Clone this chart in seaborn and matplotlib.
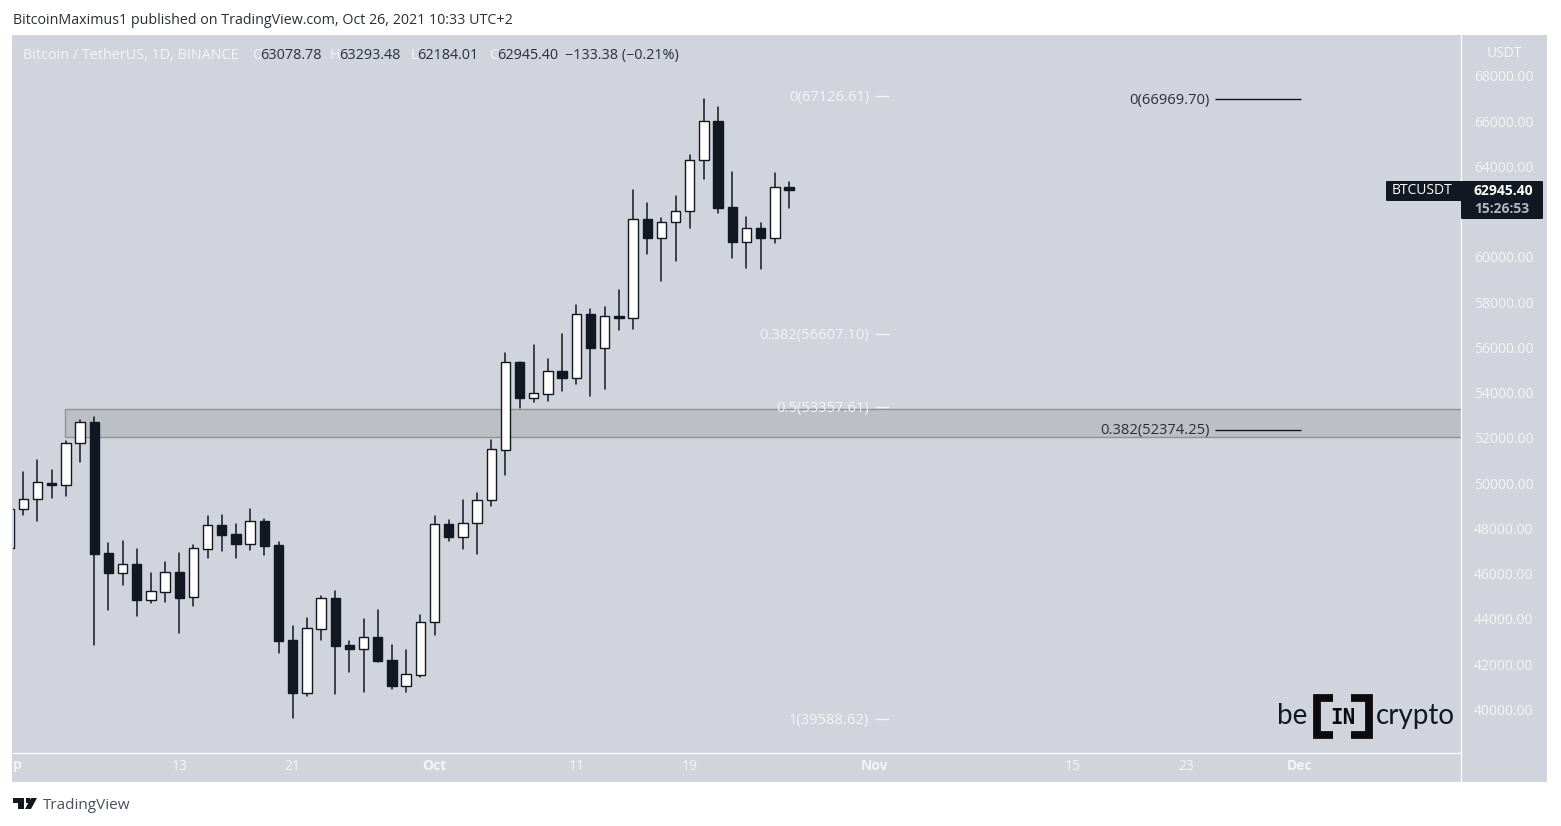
import matplotlib
matplotlib.use('Agg')
import matplotlib.pyplot as plt
import pandas as pd
import seaborn as sns
from matplotlib.lines import Line2D
from matplotlib.patches import FancyBboxPatch, Polygon, Rectangle

# daily candles from 1 Sep 2021
opens = [47138, 48849, 49290, 50012, 49939, 51765, 52693, 46904, 46050, 46433, 44857, 45210, 46065, 44960, 47110,
         48141, 47744, 47331, 48318, 47258, 43074, 40747, 43575, 44930, 42839, 42691, 43192, 42176, 41057, 41542,
         43855, 48186, 47641, 48230, 49246, 51488, 55348, 53786, 53963, 54950, 54670, 57469, 55996, 57395, 57321,
         61667, 60857, 61534, 62020, 64274, 65997, 62212, 60680, 61269, 60857, 63078.78]
closes = [48862, 49290, 50042, 49924, 51765, 52693, 46889, 46050, 46418, 44842, 45225, 46065, 44945, 47125, 48141,
          47729, 47331, 48318, 47243, 43045, 40747, 43590, 44916, 42809, 42691, 43192, 42161, 41057, 41557, 43855,
          48186, 47641, 48230, 49246, 51500, 55348, 53786, 53977, 54950, 54670, 57469, 55996, 57380, 57321, 61667,
          60857, 61534, 62020, 64274, 65997, 62182, 60680, 61269, 60857, 63081, 62945.40]
highs = [48900, 50498, 51014, 50587, 51883, 52796, 52914, 47346, 47449, 47081, 46050, 46507, 46904, 47258, 48554,
         48598, 48200, 48863, 48421, 47405, 43693, 44047, 45019, 45240, 43030, 44002, 44400, 42854, 42632, 44179,
         48554, 48377, 49261, 49556, 51912, 55745, 55348, 56099, 55495, 56600, 57881, 57704, 57793, 58544, 62963,
         62388, 61726, 62698, 64510, 66984, 66631, 63758, 61770, 61505, 63714, 63293.48]
lows = [47000, 48598, 48348, 49349, 49438, 50940, 42854, 44400, 45505, 44135, 44709, 44754, 43384, 44577, 46713,
        47007, 46698, 47066, 46831, 42485, 39628, 40600, 43074, 40688, 41660, 40776, 42102, 40924, 40776, 41439,
        43295, 47449, 47110, 46875, 48996, 50369, 53344, 53595, 53639, 54081, 54390, 53875, 54169, 56776, 56821,
        60135, 58942, 59826, 61284, 63449, 61947, 59958, 59516, 59457, 60621, 62184.01]

# 62000 is hidden behind the last price tag in the original
price_ticks = [40000, 42000, 44000, 46000, 48000, 50000, 52000, 54000, 56000, 58000, 60000, 64000, 66000, 68000]
date_tick_days = [12, 20, 30, 40, 48, 61, 75, 83, 91]
date_tick_labels = ['13', '21', 'Oct', '11', '19', 'Nov', '15', '23', 'Dec']

fib_left_levels = [67126.61, 56607.10, 53357.61, 39588.62]
fib_left_names = ['0', '0.382', '0.5', '1']
fib_right_levels = [66969.70, 52374.25]
fib_right_names = ['0', '0.382']
zone_low, zone_high = 52022, 53260

BG = '#d1d4dc'
DARK = '#131722'
SOFT = '#f3f4f7'

sns.set_theme(style='white')
plt.rcParams['font.family'] = ['Open Sans', 'DejaVu Sans']

W, H = 1561, 826
fig = plt.figure(figsize=(W / 100, H / 100), dpi=100, facecolor='white')


def fx(x):
    return x / W


def fy(y):
    return 1 - y / H


def label(x, y, s, color=DARK, size=10.4, ha='left', **kw):
    return fig.text(fx(x), fy(y + 1.5), s, color=color, fontsize=size, ha=ha, va='center', **kw)


# grey panel behind the plot and the axis strips
fig.add_artist(Rectangle((fx(12), fy(782)), fx(1535), 747 / H, transform=fig.transFigure, color=BG, lw=0, zorder=-1))

ax = fig.add_axes([fx(13), fy(753), fx(1448), 718 / H])
ax.set_facecolor(BG)
sns.despine(ax=ax, left=True, bottom=True)

df = pd.DataFrame({'open': opens, 'close': closes, 'high': highs, 'low': lows})
df['day'] = df.index
df['bottom'] = df[['open', 'close']].min(axis=1)
df['body'] = (df['close'] - df['open']).abs()
df['up'] = df['close'] > df['open']

ax.add_patch(Rectangle((3.94, zone_low), 200, zone_high - zone_low, facecolor='#bcbfc6', edgecolor='#8f9298', lw=1, zorder=1))

# wicks
wicks = df.melt(id_vars='day', value_vars=['high', 'low'], value_name='price')
sns.lineplot(data=wicks, x='day', y='price', units='day', estimator=None, color=DARK, lw=1.1, ax=ax, zorder=2, legend=False)

# bodies
up = df[df['up']]
down = df[~df['up']]
sns.barplot(data=up, x='day', y='body', bottom=up['bottom'].values, native_scale=True, width=0.66, errorbar=None,
            color='white', saturation=1, edgecolor=DARK, linewidth=1, ax=ax, zorder=3)
sns.barplot(data=down, x='day', y='body', bottom=down['bottom'].values, native_scale=True, width=0.66, errorbar=None,
            color=DARK, saturation=1, edgecolor=DARK, linewidth=1, ax=ax, zorder=3)

# fib levels
ax.hlines(fib_left_levels, 61.05, 62.05, color=SOFT, lw=1, zorder=4)
for level, name in zip(fib_left_levels, fib_left_names):
    ax.annotate(f'{name}({level:.2f})', (61.05, level), xytext=(-4, -1), textcoords='offset points', ha='right',
                va='center', color=SOFT, fontsize=10.6, zorder=4)
ax.hlines(fib_right_levels, 85.05, 91.1, color=DARK, lw=1, zorder=4)
for level, name in zip(fib_right_levels, fib_right_names):
    ax.annotate(f'{name}({level:.2f})', (85.05, level), xytext=(-4, -1), textcoords='offset points', ha='right',
                va='center', color='#2a2e39', fontsize=10.6, zorder=4)

ax.set_xlim(0.275, 102.39)
ax.set_ylim(38077, 69812)
ax.yaxis.tick_right()
ax.set_yticks(price_ticks, [f'{p:.2f}' for p in price_ticks])
ax.set_xticks(date_tick_days, date_tick_labels)
ax.tick_params(axis='y', length=0, pad=9.5, labelsize=10, labelcolor=SOFT)
ax.tick_params(axis='x', length=0, pad=4.5, labelsize=10, labelcolor=SOFT)
ax.set_xlabel('')
ax.set_ylabel('')
for t in ax.get_xticklabels():
    if t.get_text() in ('Oct', 'Nov', 'Dec'):
        t.set_fontweight('bold')

# only the tail of the Sep label is visible at the panel edge
label(12.5, 764, 'p', color=SOFT, size=10, fontweight='bold')

# axis separators
fig.add_artist(Line2D([fx(1461), fx(1461)], [fy(35), fy(782)], color='white', lw=0.9, zorder=4))
fig.add_artist(Line2D([fx(13), fx(1461)], [fy(753), fy(753)], color='white', lw=0.9, zorder=4))

# header
label(13, 19, 'BitcoinMaximus1 published on TradingView.com, Oct 26, 2021 10:33 UTC+2', color='#2a2e39', size=10.3)
label(23, 54, 'Bitcoin / TetherUS, 1D, BINANCE', color=SOFT)
for x, s in zip([252, 330, 411, 489], 'OHLC'):
    label(x, 54, s, color=SOFT)
for x, s in zip([260, 339, 417, 497, 565], ['63078.78', '63293.48', '62184.01', '62945.40', '\u2212133.38 (\u22120.21%)']):
    label(x, 54, s, color='#2a2e39')
label(1505, 52, 'USDT', color=SOFT, size=10, ha='center')

# last price tag
fig.add_artist(FancyBboxPatch((fx(1386), fy(201)), fx(90), 20 / H, boxstyle='round,pad=0,rounding_size=0.001',
                              transform=fig.transFigure, color=DARK, lw=0, zorder=5))
fig.add_artist(FancyBboxPatch((fx(1461), fy(219)), fx(82), 38 / H, boxstyle='round,pad=0,rounding_size=0.001',
                              transform=fig.transFigure, color=DARK, lw=0, zorder=5))
label(1392, 189.5, 'BTCUSDT', color='white', size=10, zorder=6)
label(1474, 189.5, '62945.40', color='white', size=10, fontweight='bold', zorder=6)
label(1474, 207.5, '15:26:53', color='#b2b5be', size=10, fontweight='bold', zorder=6)

# beincrypto mark
label(1277, 714.5, 'be', color=DARK, size=20, family='Lato', zorder=6)
label(1376, 714.5, 'crypto', color=DARK, size=20, family='Lato', zorder=6)
for xs in ([1333, 1317, 1317, 1333], [1351, 1368.5, 1368.5, 1351]):
    fig.add_artist(Line2D([fx(x) for x in xs], [fy(y) for y in (698, 698, 735, 735)], color='#0b0b0f', lw=5.6,
                          solid_joinstyle='miter', solid_capstyle='butt', zorder=6))
label(1342.5, 716.5, 'IN', color='#0b0b0f', size=15, ha='center', family='DejaVu Sans Mono', fontweight='bold', zorder=6)

# tradingview mark
for pts in ([(13, 798), (24, 798), (24, 809), (18, 809), (18, 803), (13, 803)],
            [(37, 798), (31, 809), (25, 809), (31, 798)],
            [(25.5, 798), (29.5, 798), (29.5, 803), (25.5, 803)]):
    fig.add_artist(Polygon([(fx(x), fy(y)) for x, y in pts], transform=fig.transFigure, color=DARK, lw=0, zorder=6))
label(43, 804, 'TradingView', color='#4a4f5c', size=11, zorder=6)

fig.savefig('out.png', dpi=100)
